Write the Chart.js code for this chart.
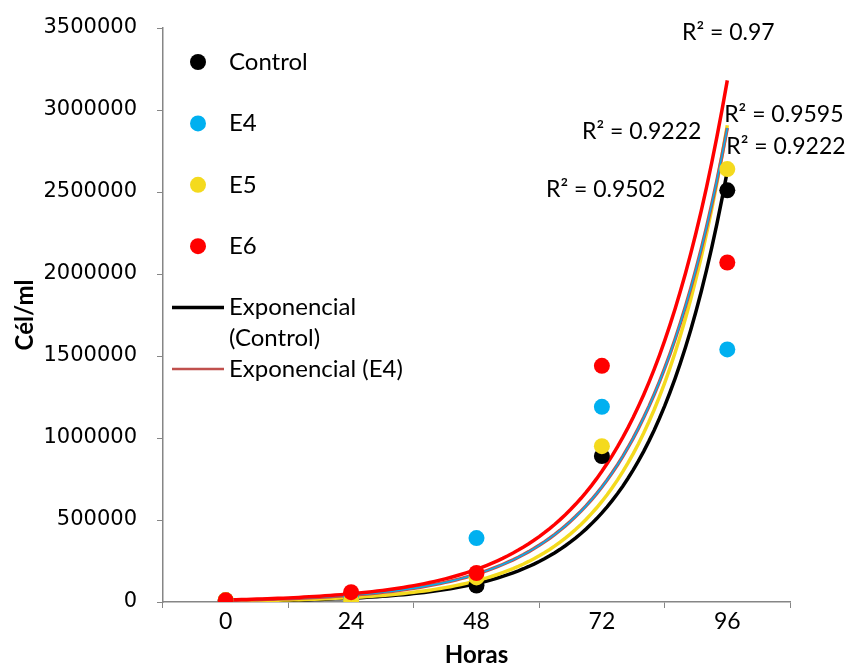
<!DOCTYPE html>
<html>
<head>
<meta charset="utf-8">
<script src="https://cdn.jsdelivr.net/npm/chart.js@4.4.0/dist/chart.umd.min.js"></script>
<style>
  html, body { margin: 0; padding: 0; background: #fff; }
</style>
</head>
<body>
<canvas id="chart" width="849" height="664"></canvas>
<script>
// Horas de cultivo y conteos (Cél/ml)
const horas = [0, 24, 48, 72, 96]
const control = [10000, 8000, 100000, 890000, 2510000]
const e4 = [10000, 20000, 390000, 1190000, 1540000]
const e5 = [12000, 8000, 150000, 950000, 2640000]
const e6 = [10000, 60000, 177000, 1440000, 2070000]
const yTicks = [0, 500000, 1000000, 1500000, 2000000, 2500000, 3000000, 3500000]

// textos R² de las líneas de tendencia (posición en unidades de datos)
const r2Texts = ['R² = 0.97', 'R² = 0.9222', 'R² = 0.9595', 'R² = 0.9222', 'R² = 0.9502']
const r2X = [96.2, 68.2, 95.4, 95.8, 61.3]
const r2Y = [3470000, 2866000, 2970000, 2774000, 2512000]
const r2Align = ['center', 'left', 'left', 'left', 'left']

const NEGRO = '#000000'
const AZUL = '#00B0F0'
const AMARILLO = '#F4DA1E'
const ROJO = '#FF0000'
const MARRON = '#C0504D'
const GRIS = '#868686'
const FUENTE = 'Lato, "DejaVu Sans", sans-serif'

// ajuste exponencial y = a*e^(bx) por mínimos cuadrados sobre ln(y), igual que Excel
function expFit(xs, ys) {
	const n = xs.length
	const ly = ys.map(v => Math.log(v))
	const mx = xs.reduce((s, v) => s + v, 0) / n
	const my = ly.reduce((s, v) => s + v, 0) / n
	let sxy = 0, sxx = 0
	for (let i = 0; i < n; i++) {
		sxy += (xs[i] - mx) * (ly[i] - my)
		sxx += (xs[i] - mx) * (xs[i] - mx)
	}
	const b = sxy / sxx
	const a = Math.exp(my - b * mx)
	return { a, b }
}

function trendPoints(ys) {
	const { a, b } = expFit(horas, ys)
	const pts = []
	for (let x = horas[0]; x <= horas[horas.length - 1]; x++) {
		pts.push({ x, y: a * Math.exp(b * x) })
	}
	return pts
}

function toPoints(ys) {
	return horas.map((h, i) => ({ x: h, y: ys[i] }))
}

function pointSet(label, ys, color, order) {
	return {
		label,
		data: toPoints(ys),
		showLine: false,
		pointRadius: 8,
		pointHoverRadius: 8,
		pointBackgroundColor: color,
		pointBorderColor: color,
		pointBorderWidth: 0,
		order,
	}
}

function trendSet(label, ys, color, width, order) {
	return {
		label,
		data: trendPoints(ys),
		showLine: true,
		pointRadius: 0,
		borderColor: color,
		borderWidth: width,
		tension: 0,
		fill: false,
		order,
	}
}

// leyenda dibujada dentro del área de trazado
const legendItems = [
	{ lines: ['Control'], kind: 'point', color: NEGRO },
	{ lines: ['E4'], kind: 'point', color: AZUL },
	{ lines: ['E5'], kind: 'point', color: AMARILLO },
	{ lines: ['E6'], kind: 'point', color: ROJO },
	{ lines: ['Exponencial', '(Control)'], kind: 'line', color: NEGRO, width: 3.5 },
	{ lines: ['Exponencial (E4)'], kind: 'line', color: MARRON, width: 2.5 },
]

const legendPlugin = {
	id: 'legendaInterna',
	afterDraw(chart) {
		const ctx = chart.ctx
		ctx.save()
		ctx.font = '24px ' + FUENTE
		ctx.textBaseline = 'middle'
		ctx.textAlign = 'left'
		legendItems.forEach((item, i) => {
			const y = 62 + i * 61.4
			if (item.kind === 'point') {
				ctx.fillStyle = item.color
				ctx.beginPath()
				ctx.arc(198, y, 8, 0, Math.PI * 2)
				ctx.fill()
			} else {
				ctx.strokeStyle = item.color
				ctx.lineWidth = item.width
				ctx.beginPath()
				ctx.moveTo(172, y)
				ctx.lineTo(224, y)
				ctx.stroke()
			}
			ctx.fillStyle = '#000'
			item.lines.forEach((t, j) => ctx.fillText(t, 229, y + j * 31))
		})
		ctx.restore()
	},
}

const r2Plugin = {
	id: 'textosR2',
	afterDraw(chart) {
		const ctx = chart.ctx
		const xs = chart.scales.x
		const ys = chart.scales.y
		ctx.save()
		ctx.font = '23px ' + FUENTE
		ctx.textBaseline = 'middle'
		ctx.fillStyle = '#000'
		r2Texts.forEach((t, i) => {
			ctx.textAlign = r2Align[i]
			ctx.fillText(t, xs.getPixelForValue(r2X[i]), ys.getPixelForValue(r2Y[i]))
		})
		ctx.restore()
	},
}

new Chart(document.getElementById('chart').getContext('2d'), {
	type: 'scatter',
	data: {
		datasets: [
			pointSet('Control', control, NEGRO, 3),
			pointSet('E4', e4, AZUL, 2),
			pointSet('E5', e5, AMARILLO, 1),
			pointSet('E6', e6, ROJO, 0),
			trendSet('Exponencial (Control)', control, NEGRO, 3.5, 8),
			trendSet('Exponencial (E5)', e5, AMARILLO, 3.5, 7),
			trendSet('Exponencial (E4)', e4, MARRON, 3.5, 6),
			trendSet('Exponencial (E4) ', e4, AZUL, 1.5, 5),
			trendSet('Exponencial (E6)', e6, ROJO, 3.5, 4),
		],
	},
	options: {
		responsive: false,
		animation: false,
		devicePixelRatio: 1,
		layout: { padding: { top: 28, right: 59, bottom: 0, left: 0 } },
		plugins: {
			legend: { display: false },
			tooltip: { enabled: false },
		},
		scales: {
			x: {
				type: 'linear',
				min: -12,
				max: 108,
				afterBuildTicks: scale => {
					scale.ticks = horas.map(v => ({ value: v }))
				},
				afterFit: scale => {
					scale.height = 62
				},
				grid: {
					offset: true,
					drawOnChartArea: false,
					color: GRIS,
					tickLength: 6,
				},
				border: { color: GRIS, width: 1.5 },
				ticks: {
					autoSkip: false,
					maxRotation: 0,
					padding: 0,
					color: '#000',
					font: { family: FUENTE, size: 23 },
					callback: v => String(v),
				},
				title: {
					display: true,
					text: 'Horas',
					color: '#000',
					padding: { top: 0, bottom: -3 },
					font: { family: FUENTE, size: 24, weight: 'bold', lineHeight: 1 },
				},
			},
			y: {
				min: 0,
				max: 3500000,
				afterBuildTicks: scale => {
					scale.ticks = yTicks.map(v => ({ value: v }))
				},
				afterFit: scale => {
					// la separación de las etiquetas no debe empujar el área de trazado
					scale.width = 163
					scale.paddingTop = 10
					scale.paddingBottom = 10
				},
				grid: {
					drawOnChartArea: false,
					color: GRIS,
					tickLength: 6,
				},
				border: { color: GRIS, width: 1.5 },
				ticks: {
					padding: 20,
					color: '#000',
					font: { family: '"DejaVu Sans", sans-serif', size: 21 },
					callback: v => String(v),
				},
				title: {
					display: true,
					text: 'Cél/ml',
					color: '#000',
					padding: { top: 13, bottom: 0 },
					font: { family: FUENTE, size: 24, weight: 'bold', lineHeight: 1 },
				},
			},
		},
	},
	plugins: [legendPlugin, r2Plugin],
})
</script>
</body>
</html>
